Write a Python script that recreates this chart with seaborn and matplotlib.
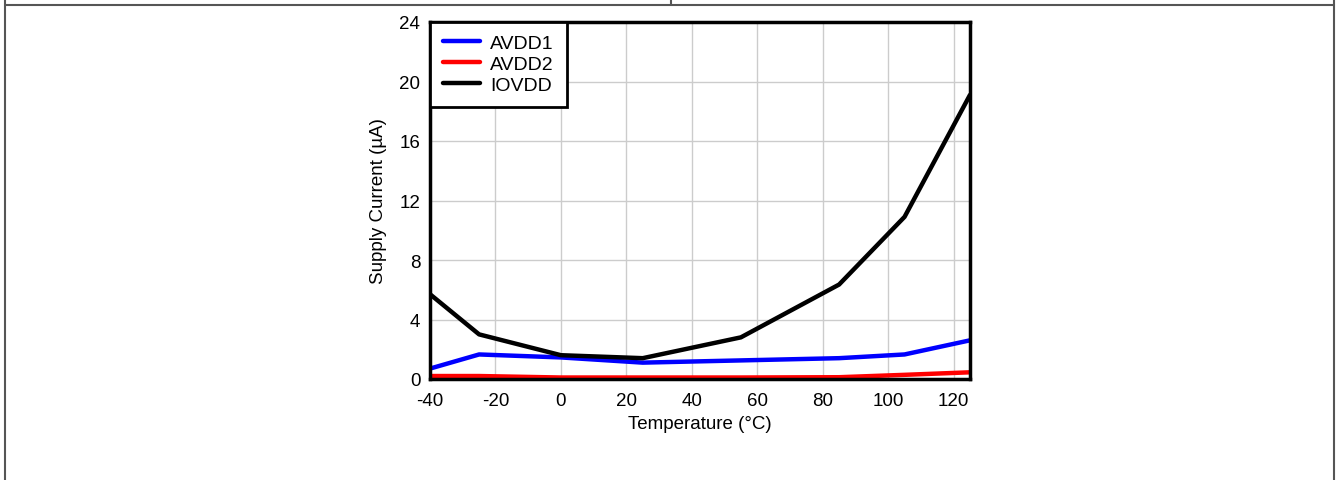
import matplotlib
matplotlib.use("Agg")
import matplotlib.pyplot as plt
import seaborn as sns
import pandas as pd

temps = [-40, -25, 0, 25, 55, 85, 105, 125]
avdd1 = [0.7, 1.65, 1.45, 1.1, 1.25, 1.4, 1.65, 2.6]
avdd2 = [0.2, 0.2, 0.1, 0.1, 0.1, 0.12, 0.28, 0.45]
iovdd = [5.7, 3.0, 1.6, 1.4, 2.8, 6.35, 10.9, 19.1]
series = ["AVDD1", "AVDD2", "IOVDD"]
colors = ["#0000ff", "#ff0000", "#000000"]

df = pd.DataFrame({"Temperature": temps * 3,
                   "Current": avdd1 + avdd2 + iovdd,
                   "Rail": [s for s in series for _ in temps]})

sns.set_style("white", {"text.color": "black", "axes.labelcolor": "black",
                        "xtick.color": "black", "ytick.color": "black"})
plt.rcParams["font.family"] = ["Liberation Sans", "DejaVu Sans"]
plt.rcParams["axes.unicode_minus"] = False

fig = plt.figure(figsize=(13.36, 4.81), dpi=100)
ax = fig.add_axes([430 / 1336, 1 - 380 / 481, 540 / 1336, 357 / 481])

sns.lineplot(data=df, x="Temperature", y="Current", hue="Rail",
             palette=colors, linewidth=3.2, ax=ax, legend=True)

fs = 13.5
ax.set_xlim(-40, 125)
ax.set_ylim(0, 24)
ax.set_xticks(range(-40, 121, 20))
ax.set_yticks(range(0, 25, 4))
ax.grid(True, color="#cccccc", linewidth=1)
ax.tick_params(axis="x", length=0, labelsize=fs, pad=9)
ax.tick_params(axis="y", length=0, labelsize=fs, pad=7)
for s in ax.spines.values():
    s.set_color("black")
    s.set_linewidth(2.5)
ax.set_xlabel("Temperature (°C)", fontsize=fs, labelpad=5)
ax.set_ylabel("Supply Current (µA)", fontsize=fs, labelpad=9)

leg = ax.legend(loc="upper left", bbox_to_anchor=(0, 1), borderaxespad=0,
                fontsize=14, handlelength=1.9, handletextpad=0.55,
                fancybox=False, framealpha=1, edgecolor="black",
                borderpad=0.65, labelspacing=0.17)
leg.get_frame().set_linewidth(2)

# outer frame lines
line_kw = dict(color="#555555", linewidth=1.5, transform=fig.transFigure)
fig.add_artist(plt.Line2D([5 / 1336, 5 / 1336], [0, 1], **line_kw))
fig.add_artist(plt.Line2D([1334 / 1336, 1334 / 1336], [0, 1], **line_kw))
fig.add_artist(plt.Line2D([5 / 1336, 1334 / 1336], [1 - 6 / 481, 1 - 6 / 481], **line_kw))
fig.add_artist(plt.Line2D([671 / 1336, 671 / 1336], [1 - 6 / 481, 1], **line_kw))

fig.savefig("out.png", dpi=100)
